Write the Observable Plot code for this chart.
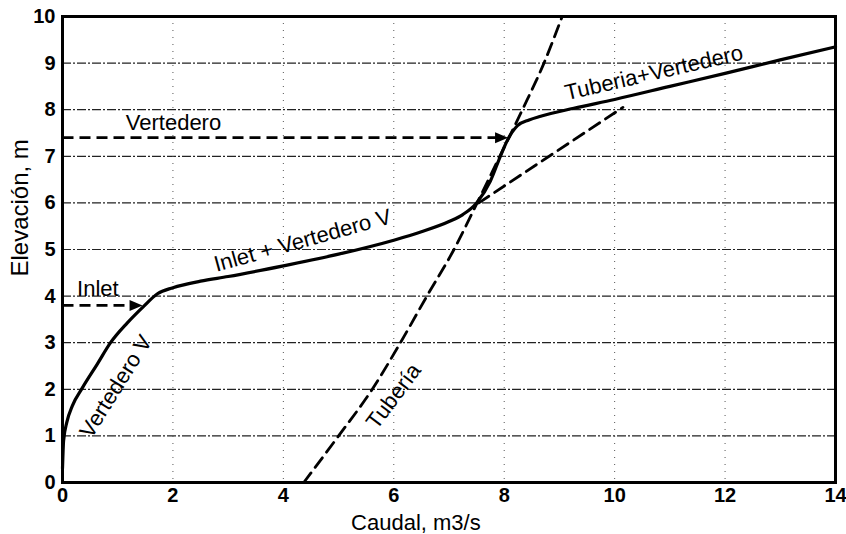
<!DOCTYPE html>
<html>
<head>
<meta charset="utf-8">
<script src="https://cdn.jsdelivr.net/npm/d3@7"></script>
<script src="https://cdn.jsdelivr.net/npm/@observablehq/plot@0.6"></script>
<style>
  body { margin: 0; background: #fff; }
  #chart svg { display: block; }
</style>
</head>
<body>
<div id="chart"></div>
<script>
// ---- Data ----
const xTicks = [0, 2, 4, 6, 8, 10, 12, 14];
const yTicks = [0, 1, 2, 3, 4, 5, 6, 7, 8, 9, 10];

// Combined rating curve (solid)
const mainX = [0, 0.02, 0.08, 0.18, 0.36, 0.63, 0.87, 1.17, 1.47, 1.72, 2.0, 2.5, 3.0, 4.0, 5.0, 6.0, 6.5, 7.0, 7.25, 7.5, 7.75, 7.93, 8.06, 8.24, 8.45, 8.66, 9.26, 10, 11, 12, 13, 14];
const mainY = [0.3, 0.9, 1.3, 1.65, 2.03, 2.54, 3.0, 3.42, 3.78, 4.05, 4.18, 4.32, 4.42, 4.65, 4.9, 5.2, 5.38, 5.6, 5.75, 6.0, 6.47, 7.0, 7.35, 7.66, 7.78, 7.86, 8.03, 8.22, 8.5, 8.78, 9.07, 9.35];

// Pipe ("Tubería") curve (dashed)
const tubX = [4.37, 5.0, 5.61, 6.12, 6.6, 7.09, 7.51, 7.92, 8.33, 8.72, 9.05];
const tubY = [0, 1, 2, 3, 4, 5, 6, 7, 8, 9, 10];

// Inlet + weir extension (dashed)
const extX = [7.54, 10.15];
const extY = [6.0, 8.05];

// Level arrows
const arrowStartX = [0, 0];
const arrowEndX = [1.45, 8.07];
const arrowY = [3.8, 7.4];

// Text annotations
const labelText = ["Vertedero", "Inlet", "Vertedero V", "Inlet + Vertedero V", "Tubería", "Tuberia+Vertedero"];
const labelX = [2.01, 0.64, 0.97, 4.35, 6.0, 10.71];
const labelY = [7.72, 4.15, 2.06, 5.19, 1.85, 8.79];
const labelRotate = [0, 0, -58, -15.5, -53, -13];

// ---- Build tables ----
const mainData = mainX.map((x, i) => ({x, y: mainY[i]}));
const tubData = tubX.map((x, i) => ({x, y: tubY[i]}));
const extData = extX.map((x, i) => ({x, y: extY[i]}));
const arrows = arrowY.map((y, i) => ({x1: arrowStartX[i], x2: arrowEndX[i], y}));
const labels = labelText.map((t, i) => ({t, x: labelX[i], y: labelY[i], r: labelRotate[i]}));

const arrowHead = {
  draw(ctx) {
    ctx.moveTo(0, 0);
    ctx.lineTo(-13, -5.5);
    ctx.lineTo(-13, 5.5);
    ctx.closePath();
  }
};

const chart = Plot.plot({
  width: 846,
  height: 534,
  marginLeft: 62,
  marginRight: 11,
  marginTop: 16,
  marginBottom: 52,
  style: {fontFamily: "'Liberation Sans', Arial, sans-serif", background: "#fff", color: "#000"},
  x: {domain: [0, 14]},
  y: {domain: [0, 10]},
  marks: [
    // grid
    Plot.ruleY(yTicks.filter(d => d > 0 && d < 10), {stroke: "#222", strokeWidth: 1.2, strokeDasharray: "9,2,2,2"}),
    Plot.ruleX(xTicks.filter(d => d > 0 && d < 14), {stroke: "#555", strokeWidth: 1, strokeDasharray: "1,6"}),
    // axes
    Plot.axisX({ticks: xTicks, tickSize: 0, tickPadding: 5, fontSize: 20, fontWeight: "bold", label: null}),
    Plot.axisY({ticks: yTicks, tickSize: 0, tickPadding: 7, fontSize: 20, fontWeight: "bold", label: null}),
    // axis titles
    Plot.text(["Caudal, m3/s"], {x: 6.4, frameAnchor: "bottom", lineAnchor: "bottom", dy: 47, fontSize: 22, fill: "#000"}),
    Plot.text(["Elevación, m"], {y: 4.42, frameAnchor: "left", lineAnchor: "middle", dx: -42, rotate: -90, fontSize: 24, fill: "#000"}),
    // curves
    Plot.line(tubData, {x: "x", y: "y", curve: "monotone-x", stroke: "#000", strokeWidth: 2.8, strokeDasharray: "12,7"}),
    Plot.line(extData, {x: "x", y: "y", stroke: "#000", strokeWidth: 2.8, strokeDasharray: "12,7"}),
    Plot.line(mainData, {x: "x", y: "y", curve: "monotone-x", stroke: "#000", strokeWidth: 3.2}),
    // arrows
    Plot.link(arrows, {x1: "x1", x2: d => d.x2 - 0.15, y1: "y", y2: "y", stroke: "#000", strokeWidth: 2.6, strokeDasharray: "11,6"}),
    Plot.dot(arrows, {x: "x2", y: "y", symbol: arrowHead, fill: "#000", stroke: "none"}),
    // labels
    Plot.text(labels, {x: "x", y: "y", text: "t", rotate: "r", fontSize: 22, fill: "#000"}),
    // frame
    Plot.frame({stroke: "#000", strokeWidth: 3})
  ]
});
document.getElementById("chart").append(chart);
</script>
</body>
</html>
